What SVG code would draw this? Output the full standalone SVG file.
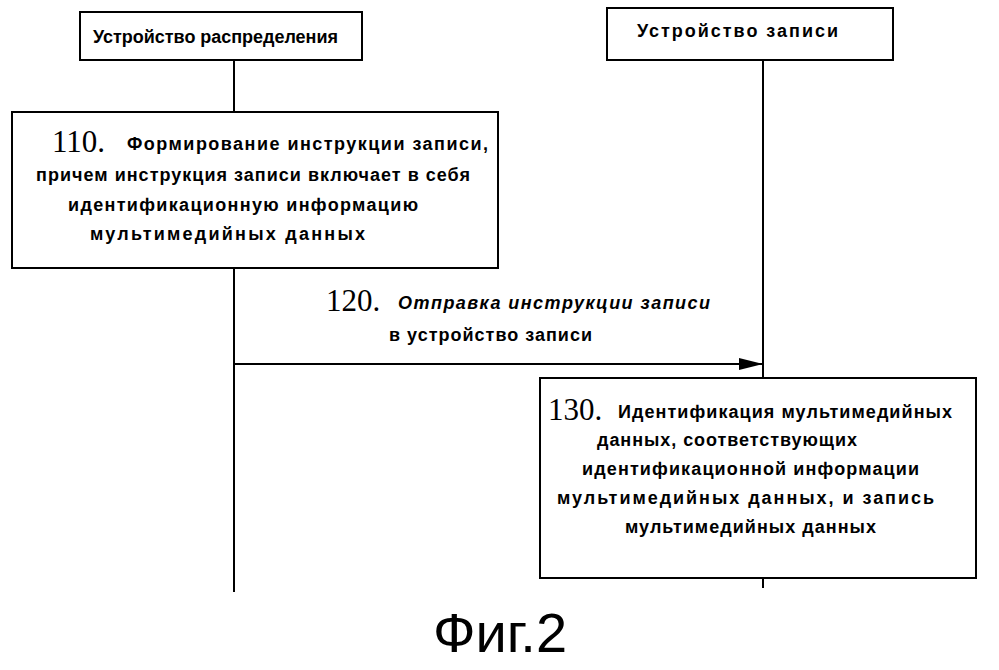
<svg xmlns="http://www.w3.org/2000/svg" width="999" height="670" viewBox="0 0 999 670">
<style>
.b{fill:#fff;stroke:#000;stroke-width:2}
.l{stroke:#000;stroke-width:2;fill:none}
.t{font-family:"Liberation Sans",Arial,sans-serif;font-size:18px;font-weight:bold;fill:#000}
.n{font-family:"Liberation Serif","Times New Roman",serif;font-size:31px;fill:#000}
</style>
<defs><marker id="a" markerWidth="24" markerHeight="12" refX="24" refY="6" orient="auto" markerUnits="userSpaceOnUse"><path d="M0,0 L24,6 L0,12 z" fill="#000"/></marker></defs>
<rect width="999" height="670" fill="#fff"/>
<g id="connectors">
<line class="l" x1="234" y1="60" x2="234" y2="112"/>
<line class="l" x1="234" y1="268" x2="234" y2="592"/>
<line class="l" x1="763" y1="60" x2="763" y2="378"/>
<line class="l" x1="763" y1="578" x2="763" y2="588"/>
<line class="l" x1="234" y1="364" x2="763" y2="364" marker-end="url(#a)"/>
<text class="n" x="326" y="311">120.</text>
<text class="t" x="398" y="309" font-style="italic" textLength="312">Отправка инструкции записи</text>
<text class="t" x="389" y="341" textLength="203">в устройство записи</text>
</g>
<g id="n1"><rect class="b" x="80" y="12" width="282" height="48"/><text class="t" x="93" y="43" textLength="245">Устройство распределения</text></g>
<g id="n2"><rect class="b" x="607" y="8" width="286" height="52"/><text class="t" x="637" y="37" textLength="201">Устройство записи</text></g>
<g id="n110"><rect class="b" x="12" y="112" width="486" height="156"/>
<text class="n" x="52" y="152">110.</text>
<text class="t" x="127" y="150" textLength="361">Формирование инструкции записи,</text>
<text class="t" x="36" y="181" textLength="434">причем инструкция записи включает в себя</text>
<text class="t" x="68" y="211" textLength="350">идентификационную информацию</text>
<text class="t" x="90" y="240" textLength="275">мультимедийных данных</text></g>
<g id="n130"><rect class="b" x="540" y="378" width="436" height="200"/>
<text class="n" x="548" y="420">130.</text>
<text class="t" x="618" y="418" textLength="334">Идентификация мультимедийных</text>
<text class="t" x="597" y="446" textLength="260">данных, соответствующих</text>
<text class="t" x="582" y="475" textLength="337">идентификационной информации</text>
<text class="t" x="557" y="504" textLength="377">мультимедийных данных, и запись</text>
<text class="t" x="625" y="533" textLength="251">мультимедийных данных</text></g>
<text x="500" y="652" text-anchor="middle" font-family="Liberation Sans,Arial,sans-serif" font-size="56">Фиг.2</text>
</svg>
